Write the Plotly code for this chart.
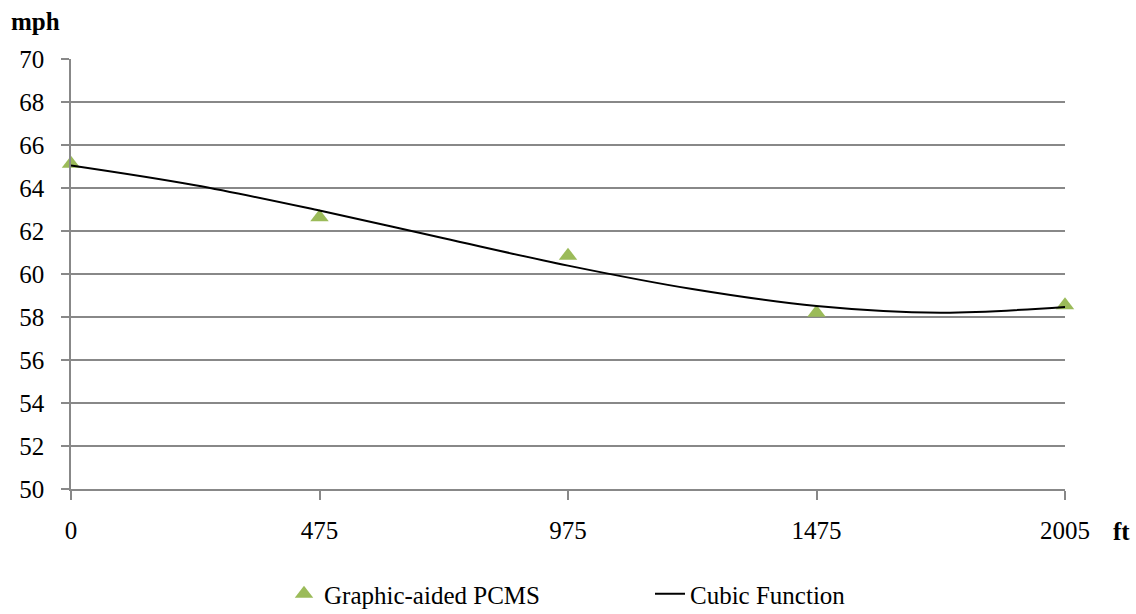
import plotly.graph_objects as go

# Data
categories = ["0", "475", "975", "1475", "2005"]
pcms_speed = [65.13, 62.64, 60.85, 58.20, 58.55]
# Cubic trend line values at half-category steps
curve_pos = [0, 0.5, 1, 1.5, 2, 2.5, 3, 3.5, 4]
curve_speed = [65.05, 64.13, 62.95, 61.66, 60.39, 59.30, 58.51, 58.20, 58.47]
y_ticks = [50, 52, 54, 56, 58, 60, 62, 64, 66, 68, 70]

W, H = 1136, 614
L, R, T, B = 71, 71, 59, 125
PW, PH = W - L - R, H - T - B

FAM = "Liberation Serif, Times New Roman, serif"
font = dict(family=FAM, size=25, color="black")

fig = go.Figure()
fig.add_trace(go.Scatter(
    x=list(range(len(categories))), y=pcms_speed, mode="markers",
    name="Graphic-aided PCMS",
    marker=dict(symbol="triangle-up", size=16, color="#9BBB59"),
    cliponaxis=False,
))
fig.add_trace(go.Scatter(
    x=curve_pos, y=curve_speed, mode="lines", name="Cubic Function",
    line=dict(color="black", width=2, shape="spline", smoothing=1.0),
    cliponaxis=False,
))

fig.update_layout(
    width=W, height=H,
    margin=dict(l=L, r=R, t=T, b=B, pad=0, autoexpand=False),
    paper_bgcolor="white", plot_bgcolor="white",
    font=font,
    showlegend=True,
    legend=dict(orientation="h", x=(284 - L) / PW, xanchor="left",
                y=-(594 - (H - B)) / PH, yanchor="middle",
                font=font, entrywidth=321, entrywidthmode="pixels",
                itemwidth=30, tracegroupgap=0, bgcolor="rgba(0,0,0,0)"),
    xaxis=dict(range=[0, 4], tickmode="array", tickvals=list(range(len(categories))),
               ticktext=categories, showgrid=False, zeroline=False,
               showline=True, linecolor="#888888", linewidth=1.5,
               ticks="outside", ticklen=9, tickcolor="#888888", tickwidth=1.5,
               ticklabelstandoff=9, tickfont=font, automargin=False),
    yaxis=dict(range=[50, 70], tickmode="array", tickvals=y_ticks,
               showgrid=True, gridcolor="#888888", gridwidth=1.5, zeroline=False,
               showline=True, linecolor="#888888", linewidth=1.5,
               ticks="outside", ticklen=8, tickcolor="#888888", tickwidth=1.5,
               ticklabelstandoff=12, tickfont=font, automargin=False),
    annotations=[
        dict(text="<b>mph</b>", xref="paper", yref="paper", x=(9 - L) / PW,
             xanchor="left", y=1 + (T - 22) / PH, yanchor="middle",
             showarrow=False, font=font),
        dict(text="<b>ft</b>", xref="paper", yref="paper", x=(1111 - L) / PW,
             xanchor="left", y=-(531 - (H - B)) / PH, yanchor="middle",
             showarrow=False, font=font),
    ],
)

fig.write_html("out.html", config={"displayModeBar": False},
               post_script="document.body.style.margin='0';")
